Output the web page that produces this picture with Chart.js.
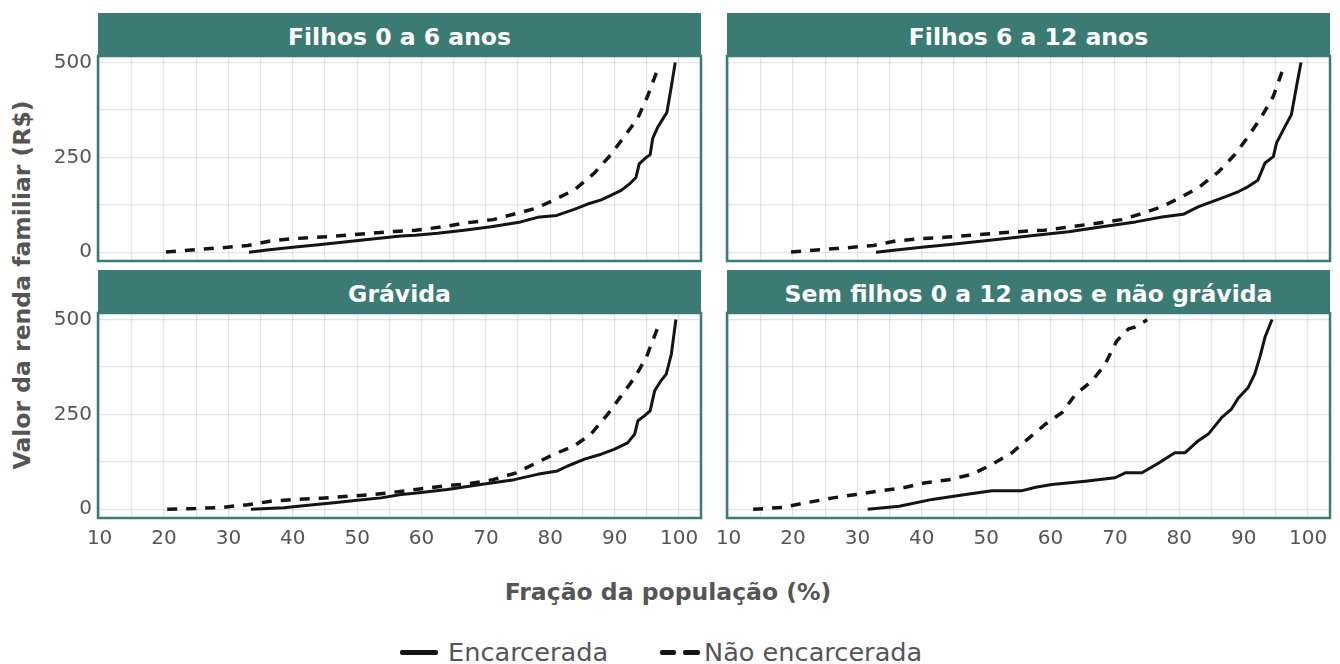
<!DOCTYPE html>
<html>
<head>
<meta charset="utf-8">
<script src="https://cdn.jsdelivr.net/npm/chart.js@4.4.1/dist/chart.umd.min.js"></script>
<style>
  html, body { margin: 0; padding: 0; background: #fff; }
  body { width: 1340px; height: 664px; position: relative; overflow: hidden; font-family: 'DejaVu Sans', sans-serif; }
  canvas { position: absolute; }
  .strip { position: absolute; background: #3b7b74; color: #fff; font-weight: 700; font-size: 23.5px;
           text-align: center; height: 43px; line-height: 49px; white-space: nowrap; overflow: visible; }
  .axis-title { position: absolute; color: #555; font-weight: 700; font-size: 23.5px; white-space: nowrap; }
  #ytitle { left: 22px; top: 285px; transform: translate(-50%, -50%) rotate(-90deg); }
  #xtitle { left: 668px; top: 592px; transform: translate(-50%, -50%); }
  .leg-text { position: absolute; top: 652px; transform: translateY(-50%); color: #555; font-size: 25.6px; white-space: nowrap; }
  .leg-line { position: absolute; top: 650px; height: 5px; background: #141414; border-radius: 2px; }
</style>
</head>
<body>
<div id="strips"></div>
<div id="ytitle" class="axis-title">Valor da renda familiar (R$)</div>
<div id="xtitle" class="axis-title">Fração da população (%)</div>
<div class="leg-line" style="left:400px;width:38px;"></div>
<div class="leg-text" id="leg0" style="left:448px;"></div>
<div class="leg-line" style="left:660px;width:16px;"></div>
<div class="leg-line" style="left:683px;width:17px;"></div>
<div class="leg-text" id="leg1" style="left:704px;"></div>

<script>
// Facet titles and series names
const panelTitles = ['Filhos 0 a 6 anos', 'Filhos 6 a 12 anos', 'Grávida', 'Sem filhos 0 a 12 anos e não grávida'];
const seriesLabels = ['Encarcerada', 'Não encarcerada'];

// Axis ticks (minor grid every 5 % and every 125 R$)
const xTickValues = [10, 15, 20, 25, 30, 35, 40, 45, 50, 55, 60, 65, 70, 75, 80, 85, 90, 95, 100];
const xTickLabels = ['10', '', '20', '', '30', '', '40', '', '50', '', '60', '', '70', '', '80', '', '90', '', '100'];
const yTickValues = [0, 125, 250, 375, 500];
const yTickLabels = ['0', '', '250', '', '500'];

// Filhos 0 a 6 anos
const f06EncPct = [33.2, 36, 40, 44, 48, 52, 56.8, 59, 62.5, 66.6, 70.8, 75.4, 78, 81, 83.7, 85.8, 87.9, 89.4, 91, 92.3, 93.3, 93.8, 94.9, 95.5, 95.9, 96.7, 97.5, 98.1, 98.8, 99.4];
const f06EncVal = [0, 6, 13, 20, 27, 34, 43, 45, 50, 58, 67, 80, 92, 97, 113, 127, 138, 150, 163, 180, 197, 233, 250, 257, 300, 330, 352, 368, 437, 500];
const f06NaoPct = [20.3, 25, 29, 33, 36.6, 40.2, 44.4, 48.5, 52.6, 55.7, 59.1, 63.3, 67.2, 71.1, 74.7, 77.8, 80.6, 83.7, 86.8, 89.4, 91.5, 93.6, 95.1, 96.4, 96.7];
const f06NaoVal = [1, 7, 12, 18, 30, 36, 40, 45, 51, 55, 58, 67, 78, 86, 102, 116, 138, 164, 208, 257, 305, 354, 411, 470, 483];

// Filhos 6 a 12 anos
const f612EncPct = [32.9, 36, 40, 44, 48, 52, 57.7, 62.8, 68, 73.2, 77.3, 80.6, 83, 85, 87.1, 89.2, 90.7, 92.2, 93.3, 94.6, 95.1, 96.4, 97.4, 98.2, 98.9];
const f612EncVal = [0, 6, 13, 20, 27, 34, 45, 54, 67, 80, 93, 100, 120, 133, 146, 160, 173, 190, 235, 252, 288, 331, 362, 437, 500];
const f612NaoPct = [19.7, 24.5, 28.5, 32.5, 36, 40, 44, 48, 52, 55.5, 59, 63, 67, 71, 74.2, 77.3, 80.4, 83.2, 86.1, 88.6, 90.7, 92.8, 94.6, 95.9, 96.1];
const f612NaoVal = [1, 7, 12, 18, 30, 36, 40, 45, 51, 55, 58, 67, 76, 86, 102, 120, 146, 173, 212, 257, 305, 358, 411, 473, 480];

// Grávida
const gravEncPct = [33.5, 38.6, 42, 46.4, 50, 53.7, 56.8, 58.9, 64, 69.2, 74.4, 78, 81.1, 82.7, 85.3, 87.9, 89.9, 92, 93.1, 93.6, 94.6, 95.5, 96.2, 97.2, 98, 98.8, 99.5];
const gravEncVal = [0, 4, 10, 17, 24, 30, 39, 42, 52, 65, 78, 92, 101, 114, 132, 145, 158, 175, 198, 233, 246, 259, 312, 339, 356, 409, 500];
const gravNaoPct = [20.5, 25, 29, 33, 36.6, 40.2, 44.4, 48.5, 52.6, 55.7, 59.1, 63.3, 67.2, 71.1, 74.7, 77.8, 80.6, 83.7, 86.3, 88.9, 90.8, 93.1, 94.9, 96.4, 96.6];
const gravNaoVal = [0, 2, 5, 12, 21, 26, 29, 34, 39, 45, 52, 61, 67, 78, 96, 122, 145, 167, 198, 250, 294, 347, 400, 466, 475];

// Sem filhos 0 a 12 anos e não grávida
const semEncPct = [31.6, 36.5, 41.6, 46.8, 50.9, 55.6, 57.7, 60.2, 65.4, 70, 71.6, 74.2, 76.8, 79.3, 80.9, 82.9, 84.5, 86.6, 88.1, 89.2, 90.7, 91.7, 92.5, 93.3, 94.4];
const semEncVal = [0, 8, 26, 39, 49, 49, 58, 65, 74, 83, 96, 96, 122, 149, 149, 180, 198, 242, 264, 294, 321, 356, 400, 453, 500];
const semNaoPct = [13.8, 18.4, 22, 26.2, 29.8, 33.4, 37, 40.6, 44.2, 47.8, 50.9, 54, 56.4, 59.2, 61.8, 63.9, 66.5, 68.5, 70.3, 72.1, 73.1, 75];
const semNaoVal = [0, 5, 17, 30, 39, 48, 56, 70, 78, 92, 118, 149, 184, 224, 255, 303, 339, 383, 444, 475, 480, 499];

const panelData = [
  [f06EncPct, f06EncVal, f06NaoPct, f06NaoVal],
  [f612EncPct, f612EncVal, f612NaoPct, f612NaoVal],
  [gravEncPct, gravEncVal, gravNaoPct, gravNaoVal],
  [semEncPct, semEncVal, semNaoPct, semNaoVal]
];

// Page layout: plot-area box of each facet
const TEAL = '#3b7b74';
const INK = '#141414';
const LABEL = '#555555';
const facetBoxes = [
  { left: 98, right: 701, top: 56, bottom: 261, showY: true, showX: false },
  { left: 727, right: 1330, top: 56, bottom: 261, showY: false, showX: false },
  { left: 98, right: 701, top: 313, bottom: 518, showY: true, showX: true },
  { left: 727, right: 1330, top: 313, bottom: 518, showY: false, showX: true }
];
const STRIP_H = 43;
const Y_AXIS_W = 98;
const X_AXIS_H = 45;

document.getElementById('leg0').textContent = seriesLabels[0];
document.getElementById('leg1').textContent = seriesLabels[1];

Chart.defaults.font.family = "'DejaVu Sans', sans-serif";
Chart.defaults.color = LABEL;

// Teal frame around each facet's plotting area
const facetFrame = {
  id: 'facetFrame',
  afterDraw(chart) {
    const { ctx, chartArea: a } = chart;
    ctx.save();
    ctx.strokeStyle = TEAL;
    ctx.lineWidth = 2.5;
    ctx.strokeRect(a.left, a.top, a.right - a.left, a.bottom - a.top);
    ctx.restore();
  }
};

const toPoints = (xs, ys) => xs.map((x, i) => ({ x: x, y: ys[i] }));

facetBoxes.forEach((box, k) => {
  // facet strip with title
  const strip = document.createElement('div');
  strip.className = 'strip';
  strip.style.left = (box.left) + 'px';
  strip.style.top = (box.top - STRIP_H) + 'px';
  strip.style.width = (box.right - box.left) + 'px';
  strip.textContent = panelTitles[k];
  document.getElementById('strips').appendChild(strip);

  const padL = box.showY ? 0 : 25;
  const padR = 10, padT = 20, padB = box.showX ? 5 : 20;
  const yW = box.showY ? Y_AXIS_W : 0;
  const xH = box.showX ? X_AXIS_H : 0;
  const canvas = document.createElement('canvas');
  const cw = padL + yW + (box.right - box.left) + padR;
  const ch = padT + (box.bottom - box.top) + xH + padB;
  canvas.width = cw; canvas.height = ch;
  canvas.style.left = (box.left - yW - padL) + 'px';
  canvas.style.top = (box.top - padT) + 'px';
  canvas.style.width = cw + 'px'; canvas.style.height = ch + 'px';
  document.body.appendChild(canvas);

  const d = panelData[k];
  new Chart(canvas, {
    type: 'line',
    data: {
      datasets: [
        { label: seriesLabels[0], data: toPoints(d[0], d[1]), borderColor: INK, borderWidth: 3,
          pointRadius: 0, tension: 0, fill: false, borderJoinStyle: 'round' },
        { label: seriesLabels[1], data: toPoints(d[2], d[3]), borderColor: INK, borderWidth: 3.5,
          borderDash: [10, 9], borderCapStyle: 'butt', pointRadius: 0, tension: 0, fill: false }
      ]
    },
    options: {
      responsive: false,
      animation: false,
      devicePixelRatio: 1,
      layout: { padding: { left: padL, right: padR, top: padT, bottom: padB } },
      plugins: { legend: { display: false }, tooltip: { enabled: false }, title: { display: false } },
      scales: {
        x: {
          type: 'linear', min: 9.75, max: 103.4,
          afterBuildTicks: s => { s.ticks = xTickValues.map(v => ({ value: v })); },
          afterFit: s => { s.height = xH; },
          grid: { color: 'rgba(0,0,0,0.10)', lineWidth: 1.3, drawTicks: false },
          border: { display: false },
          ticks: {
            display: box.showX, autoSkip: false, maxRotation: 0, padding: 9,
            color: LABEL, font: { size: 20 },
            callback: (v) => xTickLabels[xTickValues.indexOf(v)]
          }
        },
        y: {
          type: 'linear', min: -23, max: 517,
          afterBuildTicks: s => { s.ticks = yTickValues.map(v => ({ value: v })); },
          afterFit: s => { s.width = yW; },
          grid: { color: 'rgba(0,0,0,0.10)', lineWidth: 1.3, drawTicks: false },
          border: { display: false },
          ticks: {
            display: box.showY, autoSkip: false, padding: 6,
            color: LABEL, font: { size: 20 },
            callback: (v) => yTickLabels[yTickValues.indexOf(v)]
          }
        }
      }
    },
    plugins: [facetFrame]
  });
});
</script>
</body>
</html>
